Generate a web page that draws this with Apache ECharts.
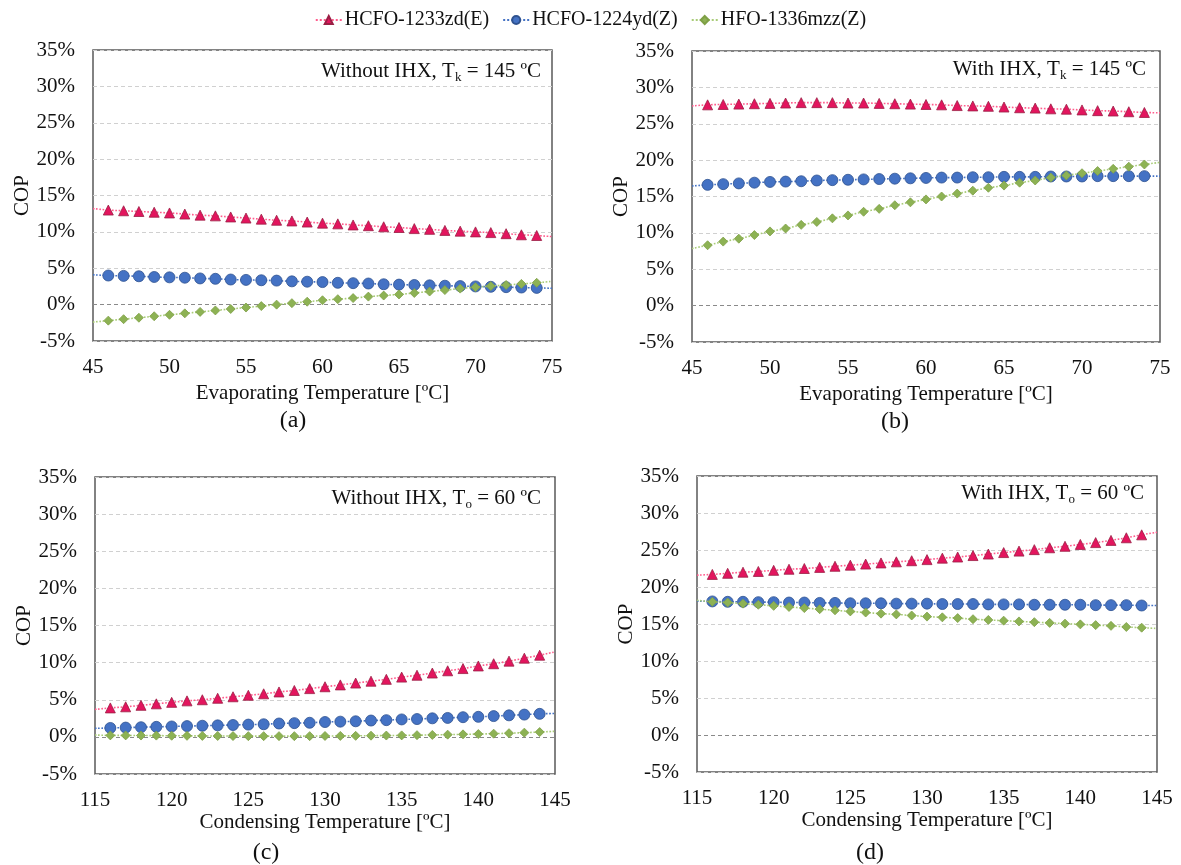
<!DOCTYPE html>
<html>
<head>
<meta charset="utf-8">
<script src="https://cdn.jsdelivr.net/npm/echarts@6/dist/echarts.min.js"></script>
<style>
  html, body { margin: 0; padding: 0; background: #fff; }
  #chart { width: 1181px; height: 865px; }
</style>
</head>
<body>
<div id="chart"></div>
<script>
// Refrigerant names
const refrigerants = ['HCFO-1233zd(E)', 'HCFO-1224yd(Z)', 'HFO-1336mzz(Z)'];

// Evaporating temperatures [ºC] for panels (a) and (b)
const evapTemps = [46, 47, 48, 49, 50, 51, 52, 53, 54, 55, 56, 57, 58, 59, 60, 61, 62, 63, 64, 65, 66, 67, 68, 69, 70, 71, 72, 73, 74];
// Condensing temperatures [ºC] for panels (c) and (d)
const condTemps = [116, 117, 118, 119, 120, 121, 122, 123, 124, 125, 126, 127, 128, 129, 130, 131, 132, 133, 134, 135, 136, 137, 138, 139, 140, 141, 142, 143, 144];

// Y tick labels (COP, %)
const copTicks = [-5, 0, 5, 10, 15, 20, 25, 30, 35];

// (a) Without IHX, Tk = 145 ºC  — COP in %
const a1233 = [13.0, 12.9, 12.8, 12.7, 12.6, 12.45, 12.3, 12.2, 12.05, 11.9, 11.75, 11.6, 11.5, 11.35, 11.2, 11.1, 10.95, 10.85, 10.7, 10.6, 10.45, 10.35, 10.2, 10.1, 10.0, 9.9, 9.75, 9.6, 9.5];
const a1224 = [4.0, 3.95, 3.9, 3.8, 3.75, 3.7, 3.6, 3.55, 3.45, 3.4, 3.35, 3.3, 3.2, 3.15, 3.1, 3.0, 2.95, 2.9, 2.8, 2.75, 2.7, 2.65, 2.6, 2.55, 2.5, 2.45, 2.4, 2.35, 2.3];
const a1336 = [-2.2, -2.0, -1.8, -1.6, -1.4, -1.2, -1.0, -0.8, -0.6, -0.4, -0.2, 0.0, 0.2, 0.4, 0.6, 0.75, 0.9, 1.1, 1.25, 1.4, 1.6, 1.8, 2.0, 2.2, 2.4, 2.55, 2.7, 2.85, 3.0];
// trend-line values at the axis ends [45 ºC, 75 ºC]
const aTrend1233 = [13.2, 9.35];
const aTrend1224 = [4.1, 2.25];
const aTrend1336 = [-2.4, 3.2];

// (b) With IHX, Tk = 145 ºC
const b1233 = [27.6, 27.65, 27.7, 27.75, 27.8, 27.85, 27.9, 27.9, 27.9, 27.85, 27.85, 27.8, 27.75, 27.7, 27.65, 27.6, 27.5, 27.45, 27.4, 27.3, 27.2, 27.15, 27.05, 27.0, 26.9, 26.8, 26.75, 26.65, 26.55];
const b1224 = [16.6, 16.7, 16.8, 16.9, 17.0, 17.05, 17.1, 17.2, 17.25, 17.3, 17.35, 17.4, 17.45, 17.5, 17.55, 17.6, 17.6, 17.65, 17.65, 17.7, 17.7, 17.7, 17.75, 17.75, 17.75, 17.8, 17.8, 17.8, 17.8];
const b1336 = [8.3, 8.8, 9.2, 9.7, 10.2, 10.6, 11.1, 11.5, 12.0, 12.4, 12.9, 13.3, 13.8, 14.2, 14.6, 15.0, 15.4, 15.8, 16.2, 16.5, 16.9, 17.2, 17.6, 17.9, 18.2, 18.5, 18.8, 19.1, 19.4];
const bTrend1233 = [27.45, 26.5];
const bTrend1224 = [16.45, 17.8];
const bTrend1336 = [7.85, 19.7];

// (c) Without IHX, To = 60 ºC
const c1233 = [3.9, 4.05, 4.25, 4.45, 4.65, 4.85, 5.0, 5.2, 5.4, 5.6, 5.8, 6.05, 6.25, 6.5, 6.75, 7.0, 7.25, 7.5, 7.75, 8.05, 8.3, 8.6, 8.9, 9.2, 9.55, 9.85, 10.2, 10.6, 11.0];
const c1224 = [1.2, 1.25, 1.3, 1.35, 1.4, 1.45, 1.5, 1.55, 1.6, 1.65, 1.7, 1.8, 1.85, 1.9, 2.0, 2.05, 2.1, 2.2, 2.25, 2.35, 2.4, 2.5, 2.55, 2.65, 2.7, 2.8, 2.9, 3.0, 3.1];
const c1336 = [0.2, 0.2, 0.18, 0.17, 0.15, 0.14, 0.13, 0.12, 0.11, 0.1, 0.1, 0.1, 0.1, 0.1, 0.12, 0.13, 0.14, 0.16, 0.18, 0.2, 0.23, 0.26, 0.3, 0.34, 0.38, 0.43, 0.5, 0.57, 0.65];
const cTrend1233 = [3.7, 11.45];
const cTrend1224 = [1.15, 3.15];
const cTrend1336 = [0.25, 0.75];

// (d) With IHX, To = 60 ºC
const d1233 = [21.7, 21.85, 22.0, 22.1, 22.25, 22.4, 22.5, 22.65, 22.8, 22.95, 23.1, 23.25, 23.4, 23.55, 23.7, 23.9, 24.05, 24.25, 24.45, 24.65, 24.85, 25.05, 25.3, 25.5, 25.75, 26.0, 26.3, 26.65, 27.05];
const d1224 = [18.05, 18.0, 18.0, 17.95, 17.95, 17.9, 17.9, 17.85, 17.85, 17.8, 17.8, 17.8, 17.75, 17.75, 17.75, 17.7, 17.7, 17.7, 17.65, 17.65, 17.65, 17.6, 17.6, 17.6, 17.6, 17.55, 17.55, 17.55, 17.5];
const d1336 = [18.0, 17.9, 17.75, 17.6, 17.45, 17.3, 17.15, 17.0, 16.85, 16.7, 16.55, 16.4, 16.3, 16.15, 16.0, 15.9, 15.8, 15.65, 15.55, 15.45, 15.35, 15.25, 15.15, 15.05, 14.95, 14.85, 14.75, 14.6, 14.5];
const dTrend1233 = [21.6, 27.4];
const dTrend1224 = [18.1, 17.5];
const dTrend1336 = [18.2, 14.4];

const FONT = 'Liberation Serif';
const FS = 21;

// Marker / trend styling per refrigerant
const styles = [
  { symbol: 'triangle', size: 10, fill: '#E3155E', border: '#9A2045', line: '#FF5C8D' },
  { symbol: 'circle',   size: 11, fill: '#4472C4', border: '#2F528F', line: '#4472C4' },
  { symbol: 'diamond',  size: 9,  fill: '#8DB254', border: '#7FA046', line: '#A9CC78' }
];

// Panel layout (pixel boxes) and content
const panels = [
  { box: { left: 93,  top: 50,  width: 459, height: 291 }, xs: evapTemps, xr: [45, 75],
    vals: [a1233, a1224, a1336], trends: [aTrend1233, aTrend1224, aTrend1336],
    xname: 'Evaporating Temperature [ºC]', nameGap: 42 },
  { box: { left: 692, top: 51,  width: 468, height: 291 }, xs: evapTemps, xr: [45, 75],
    vals: [b1233, b1224, b1336], trends: [bTrend1233, bTrend1224, bTrend1336],
    xname: 'Evaporating Temperature [ºC]', nameGap: 42 },
  { box: { left: 95,  top: 477, width: 460, height: 297 }, xs: condTemps, xr: [115, 145],
    vals: [c1233, c1224, c1336], trends: [cTrend1233, cTrend1224, cTrend1336],
    xname: 'Condensing Temperature [ºC]', nameGap: 38 },
  { box: { left: 697, top: 476, width: 460, height: 296 }, xs: condTemps, xr: [115, 145],
    vals: [d1233, d1224, d1336], trends: [dTrend1233, dTrend1224, dTrend1336],
    xname: 'Condensing Temperature [ºC]', nameGap: 38 }
];

// Inner annotations and captions
const notes = [
  { pre: 'Without IHX, T', sub: 'k', post: ' = 145 ºC', right: 1181 - 541, top: 58 },
  { pre: 'With IHX, T',    sub: 'k', post: ' = 145 ºC', right: 1181 - 1146, top: 56 },
  { pre: 'Without IHX, T', sub: 'o', post: ' = 60 ºC',  right: 1181 - 541, top: 485 },
  { pre: 'With IHX, T',    sub: 'o', post: ' = 60 ºC',  right: 1181 - 1144, top: 480 }
];
const captions = [
  { text: '(a)', x: 293, y: 409 },
  { text: '(b)', x: 895, y: 410 },
  { text: '(c)', x: 266, y: 841 },
  { text: '(d)', x: 870, y: 841 }
];

const grids = [], xAxes = [], yAxes = [], series = [], titles = [];
const gridLineColors = copTicks.map(v => v === 0 ? '#8a8a8a' : '#d0d0d0');

panels.forEach((p, i) => {
  grids.push(Object.assign({ show: true, borderColor: '#5a5a5a', borderWidth: 1.5, backgroundColor: 'transparent' }, p.box));
  xAxes.push({
    type: 'value', gridIndex: i, min: p.xr[0], max: p.xr[1], interval: 5,
    axisLine: { show: false }, axisTick: { show: false }, splitLine: { show: false },
    axisLabel: { color: '#111', fontFamily: FONT, fontSize: FS, margin: 16 },
    name: p.xname, nameLocation: 'middle', nameGap: p.nameGap,
    nameTextStyle: { color: '#111', fontFamily: FONT, fontSize: FS }
  });
  yAxes.push({
    type: 'value', gridIndex: i, min: copTicks[0], max: copTicks[copTicks.length - 1], interval: 5,
    axisLine: { show: false }, axisTick: { show: false },
    splitLine: { show: true, lineStyle: { type: [4, 3], color: gridLineColors, width: 1 } },
    axisLabel: { color: '#111', fontFamily: FONT, fontSize: FS, margin: 18, formatter: '{value}%' },
    name: 'COP', nameLocation: 'middle', nameGap: 59, nameRotate: 90,
    nameTextStyle: { color: '#111', fontFamily: FONT, fontSize: FS }
  });
  p.vals.forEach((vals, k) => {
    const st = styles[k];
    const data = [{ value: [p.xr[0], p.trends[k][0]], symbol: 'none' }]
      .concat(p.xs.map((x, j) => [x, vals[j]]))
      .concat([{ value: [p.xr[1], p.trends[k][1]], symbol: 'none' }]);
    series.push({
      name: refrigerants[k], type: 'line', xAxisIndex: i, yAxisIndex: i,
      data: data, smooth: 0.3, symbol: st.symbol, symbolSize: st.size, showSymbol: true,
      lineStyle: { type: 'dotted', width: 1.6, color: st.line },
      itemStyle: { color: st.fill, borderColor: st.border, borderWidth: 0.8 },
      emphasis: { disabled: true }, animation: false, z: 2 + k
    });
  });
});

notes.forEach(n => {
  titles.push({
    text: '{n|' + n.pre + '}{s|' + n.sub + '}{n|' + n.post + '}',
    right: n.right, top: n.top, padding: 0,
    textStyle: {
      fontWeight: 'normal',
      rich: {
        n: { fontFamily: FONT, fontSize: FS, fontWeight: 'normal', color: '#111', lineHeight: 26, verticalAlign: 'middle' },
        s: { fontFamily: FONT, fontSize: 13, fontWeight: 'normal', color: '#111', lineHeight: 26, verticalAlign: 'bottom', padding: [9, 0, 0, 0] }
      }
    }
  });
});
captions.forEach(c => {
  titles.push({
    text: c.text, left: c.x, top: c.y, textAlign: 'center', padding: 0,
    textStyle: { fontFamily: FONT, fontSize: 24, fontWeight: 'normal', color: '#111' }
  });
});

const chart = echarts.init(document.getElementById('chart'), null, { renderer: 'canvas' });
chart.setOption({
  backgroundColor: '#fff',
  animation: false,
  title: titles,
  legend: {
    data: refrigerants, top: 5, left: 'center', itemWidth: 26, itemHeight: 10, itemGap: 13,
    textStyle: { fontFamily: FONT, fontSize: 20, color: '#111', padding: [0, 0, 0, -2] }
  },
  grid: grids,
  xAxis: xAxes,
  yAxis: yAxes,
  series: series
});
</script>
</body>
</html>
